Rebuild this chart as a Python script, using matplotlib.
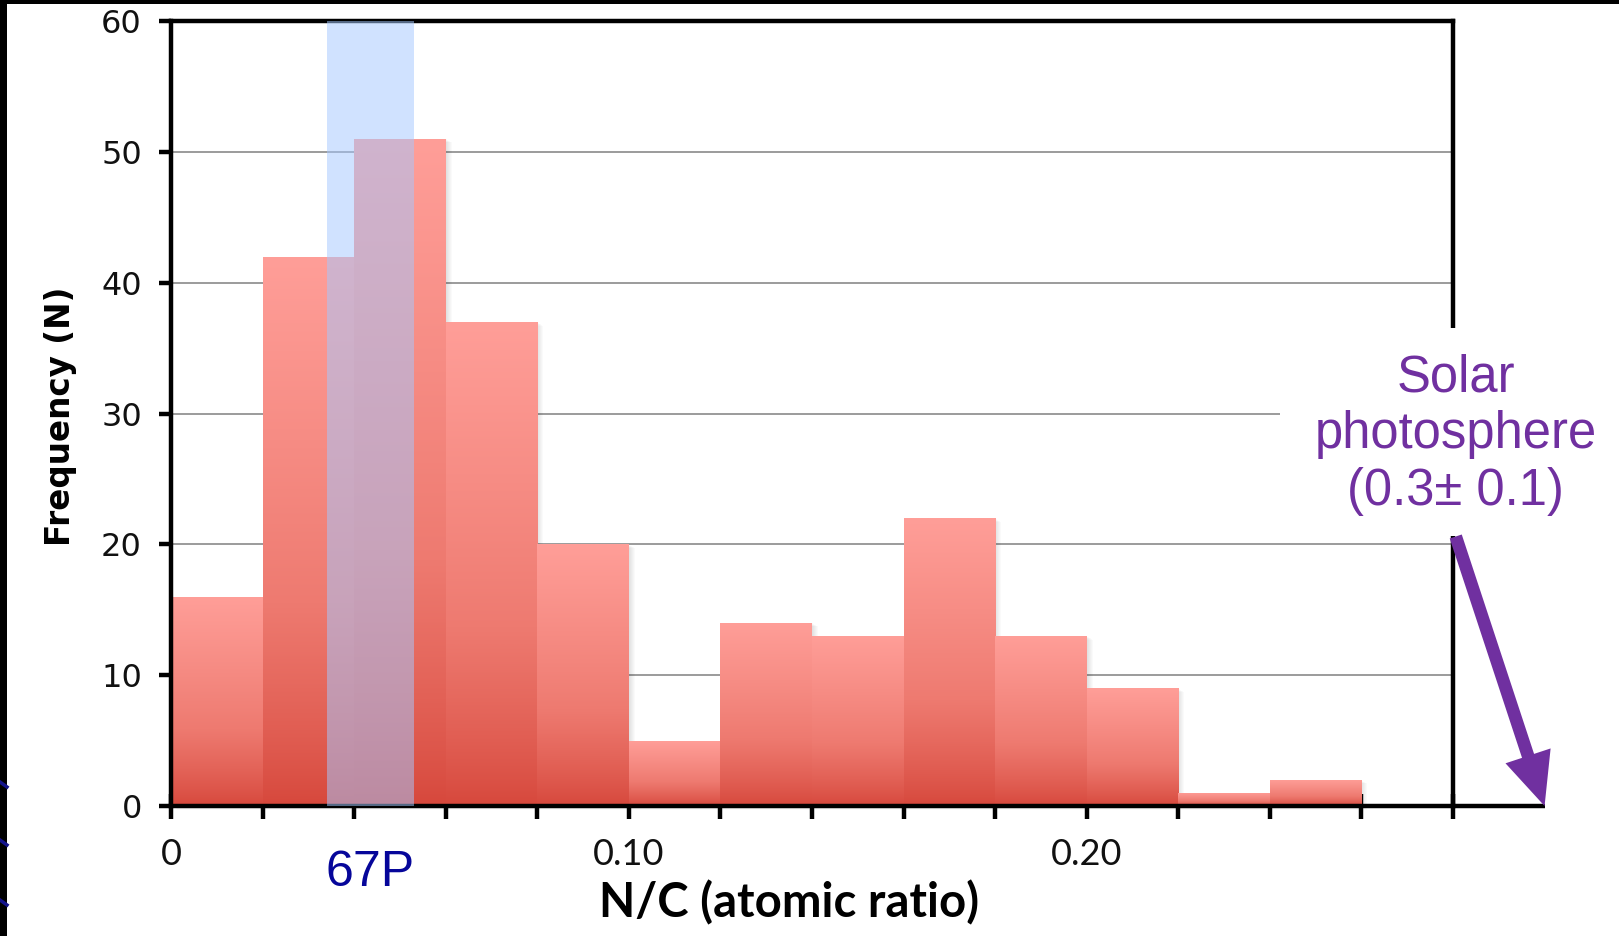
import numpy as np
import matplotlib
matplotlib.use("Agg")
import matplotlib.pyplot as plt
from matplotlib.colors import LinearSegmentedColormap
from matplotlib.patches import Rectangle, FancyArrowPatch
from matplotlib.lines import Line2D
from matplotlib.transforms import ScaledTranslation

# Histogram of N/C atomic ratios
bin_edges = [0.00, 0.02, 0.04, 0.06, 0.08, 0.10, 0.12, 0.14,
             0.16, 0.18, 0.20, 0.22, 0.24, 0.26, 0.28]
counts = [16, 42, 51, 37, 20, 5, 14, 13, 22, 13, 9, 1, 2, 0]

# 67P range and solar photosphere value
comet_range = (0.034, 0.053)
comet_label = "67P"
solar_value = 0.30
solar_label = "Solar\nphotosphere\n(0.3\u00b1 0.1)"

y_ticks = [0, 10, 20, 30, 40, 50, 60]
x_ticks = bin_edges
x_tick_labels = ["0" if t == 0 else ("0.10" if abs(t - 0.10) < 1e-9 else
                 ("0.20" if abs(t - 0.20) < 1e-9 else "")) for t in x_ticks]

W, H, DPI = 1619, 936, 100
fig = plt.figure(figsize=(W / DPI, H / DPI), dpi=DPI)
fig.patch.set_facecolor("white")

ax = fig.add_axes([171 / W, 1 - 806 / H, (1453 - 171) / W, (806 - 21) / H])
ax.set_xlim(0, 0.28)
ax.set_ylim(0, 60)

# horizontal gridlines
ax.hlines(y_ticks[1:], 0, 0.28, color="#8a8a8a", lw=1.2, zorder=1)

# gradient bars with a soft shadow
grad_cmap = LinearSegmentedColormap.from_list(
    "bar", [(0.0, "#d6473b"), (0.45, "#ee7a70"), (1.0, "#ff9e98")])
grad = np.linspace(0, 1, 256).reshape(-1, 1) ** 0.8
lefts = bin_edges[:-1]
width = 0.02
bars = ax.bar(lefts, counts, width=width, align="edge",
              color="none", lw=0, zorder=2)
for left, c in zip(lefts, counts):
    if c <= 0:
        continue
    for k in range(1, 7):
        off = ScaledTranslation(k / DPI, -k / DPI * 0.6, fig.dpi_scale_trans)
        ax.add_patch(Rectangle((left, 0), width, c, facecolor="#000000",
                               alpha=0.02, lw=0, zorder=1.5,
                               transform=ax.transData + off, clip_on=False))
for bar, c in zip(bars, counts):
    if c <= 0:
        continue
    x0 = bar.get_x()
    im = ax.imshow(grad, extent=(x0, x0 + bar.get_width(), 0, c),
                   origin="lower", aspect="auto", cmap=grad_cmap,
                   interpolation="bicubic", zorder=2)
    im.set_clip_path(bar)
ax.set_xlim(0, 0.28)
ax.set_ylim(0, 60)

# spines and ticks
for s in ax.spines.values():
    s.set_linewidth(3.2)
    s.set_color("black")
ax.set_yticks(y_ticks)
ax.set_yticklabels([str(v) for v in y_ticks])
ax.set_xticks(x_ticks)
ax.set_xticklabels(x_tick_labels)
ax.tick_params(axis="y", direction="out", length=9, width=3.2, pad=12,
               labelsize=23, labelcolor="#111111")
ax.tick_params(axis="x", direction="inout", length=18, width=3.2, pad=14,
               labelsize=26, labelcolor="#111111")
for lab in ax.get_yticklabels():
    lab.set_family("DejaVu Sans")
for lab in ax.get_xticklabels():
    lab.set_family("Lato")

ax.set_xlabel("N/C (atomic ratio)", fontsize=34, fontweight="bold",
              family="Lato")
ax.xaxis.set_label_coords(0.482, -0.094)
ax.set_ylabel("Frequency (N)", fontsize=23.5, fontweight="bold",
              family="DejaVu Sans")
ax.yaxis.set_label_coords(-0.073, 0.497)

# 67P band
ax.add_patch(Rectangle((comet_range[0], 0), comet_range[1] - comet_range[0], 60,
                       facecolor=(165 / 255, 200 / 255, 1.0), alpha=0.52,
                       lw=0, zorder=3, clip_on=False))
ax.text(sum(comet_range) / 2, -5.1, comet_label, ha="center", va="center",
        fontsize=36, color="#06069a", family="Liberation Sans", clip_on=False)

# x axis continued out to the solar value
ax.add_line(Line2D([0.28, solar_value], [0, 0], color="black", lw=3.2,
                   solid_capstyle="butt", clip_on=False, zorder=2.6))

# label box for the solar photosphere
ax.add_patch(Rectangle((0.2422, 20.6), 0.075, 15.9, facecolor="white",
                       lw=0, zorder=4, clip_on=False))
ax.text(0.2806, 28.4, solar_label, ha="center", va="center",
        fontsize=36.5, color="#7030a0", family="Liberation Sans",
        linespacing=1.2, zorder=5, clip_on=False)
arrow = FancyArrowPatch((0.2806, 20.6), (solar_value, 0),
                        arrowstyle="simple,head_length=1.0,head_width=0.9,tail_width=0.24",
                        mutation_scale=38, color="#7030a0", lw=0,
                        shrinkA=0, shrinkB=0, zorder=5, clip_on=False)
ax.add_patch(arrow)

# frame edges of the slide
fig.patches.append(Rectangle((0, 0), 7 / W, 1, transform=fig.transFigure,
                             facecolor="black", lw=0, zorder=10))
fig.patches.append(Rectangle((0, 1 - 4 / H), 1, 4 / H, transform=fig.transFigure,
                             facecolor="black", lw=0, zorder=10))
for yy in (782, 840, 900):
    fig.lines.append(Line2D([0, 7 / W], [1 - yy / H, 1 - (yy + 5) / H],
                            transform=fig.transFigure, color="#14148a",
                            lw=2.5, zorder=11))

fig.savefig("out.png", dpi=DPI)
